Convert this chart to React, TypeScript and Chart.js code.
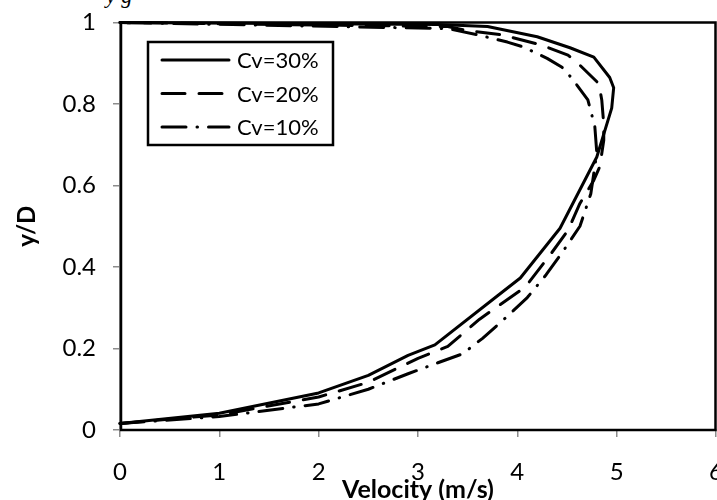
import React, { useEffect, useRef } from "react";
import { Chart, registerables } from "chart.js";

Chart.register(...registerables);

const seriesLabels = ["Cv=30%", "Cv=20%", "Cv=10%"];

const v30 = [0, 1, 2, 2.5, 2.9, 3.17, 3.83, 4.03, 4.43, 4.8, 4.95, 4.97, 4.93, 4.77, 4.53, 4.2, 3.7, 3.2, 0];
const y30 = [0.016, 0.041, 0.091, 0.134, 0.183, 0.209, 0.335, 0.373, 0.495, 0.67, 0.79, 0.84, 0.865, 0.915, 0.938, 0.965, 0.99, 0.995, 1.0];

const v20 = [0, 1, 2, 2.5, 3.0, 3.3, 3.62, 4.08, 4.34, 4.51, 4.63, 4.77, 4.83, 4.87, 4.87, 4.85, 4.82, 4.61, 4.51, 4.24, 3.84, 3.5, 3.3, 0];
const y20 = [0.016, 0.037, 0.081, 0.117, 0.176, 0.205, 0.272, 0.351, 0.433, 0.49, 0.556, 0.613, 0.646, 0.711, 0.75, 0.81, 0.85, 0.9, 0.92, 0.945, 0.97, 0.98, 0.99, 1.0];

const v10 = [0, 1, 2, 2.5, 2.9, 3.2, 3.45, 3.65, 3.89, 4.1, 4.29, 4.45, 4.63, 4.74, 4.8, 4.78, 4.71, 4.55, 4.45, 4.3, 4.06, 3.9, 3.6, 3.3, 0];
const y10 = [0.016, 0.033, 0.064, 0.1, 0.138, 0.165, 0.187, 0.225, 0.277, 0.325, 0.381, 0.435, 0.5, 0.58, 0.68, 0.745, 0.81, 0.863, 0.89, 0.912, 0.94, 0.952, 0.97, 0.985, 1.0];

const xTicks = [0, 1, 2, 3, 4, 5, 6];
const yTicks = [0, 0.2, 0.4, 0.6, 0.8, 1];

const xTitle = "Velocity (m/s)";
const yTitle = "y/D";

const dashes: number[][] = [[], [23, 14], [24, 11, 0.5, 11]];

const FONT = "Lato";

const toPoints = (xs: number[], ys: number[]) => xs.map((x, i) => ({ x, y: ys[i] }));

const framePlugin = {
  id: "plotFrame",
  beforeDatasetsDraw(chart: any) {
    const { ctx, chartArea } = chart;
    ctx.save();
    ctx.strokeStyle = "#000";
    ctx.lineWidth = 2.5;
    ctx.strokeRect(chartArea.left + 1, chartArea.top, chartArea.right - chartArea.left - 1.5, chartArea.bottom - chartArea.top);
    ctx.restore();
  },
};

const legendPlugin = {
  id: "insideLegend",
  afterDraw(chart: any) {
    const { ctx } = chart;
    const bx = 148, by = 42, bw = 185, bh = 103;
    ctx.save();
    ctx.fillStyle = "#fff";
    ctx.fillRect(bx, by, bw, bh);
    ctx.strokeStyle = "#000";
    ctx.lineWidth = 2.5;
    ctx.strokeRect(bx, by, bw, bh);
    ctx.font = `22px ${FONT}`;
    ctx.textBaseline = "middle";
    ctx.fillStyle = "#000";
    chart.data.datasets.forEach((ds: any, i: number) => {
      const yy = 60 + i * 33.5;
      ctx.beginPath();
      ctx.setLineDash(ds.borderDash || []);
      ctx.lineCap = "round";
      ctx.lineWidth = 3;
      ctx.moveTo(162, yy);
      ctx.lineTo(229, yy);
      ctx.stroke();
      ctx.setLineDash([]);
      ctx.fillText(ds.label, 237, yy + 1);
    });
    ctx.restore();
  },
};

export default function App() {
  const ref = useRef<HTMLCanvasElement | null>(null);

  useEffect(() => {
    if (!ref.current) return;
    const series = [
      toPoints(v30, y30),
      toPoints(v20, y20),
      toPoints(v10, y10),
    ];
    const chart = new Chart(ref.current, {
      type: "scatter",
      data: {
        datasets: series.map((pts, i) => ({
          label: seriesLabels[i],
          data: pts,
          showLine: true,
          borderColor: "#000",
          backgroundColor: "#000",
          borderWidth: 3,
          borderDash: dashes[i],
          borderCapStyle: "round",
          borderJoinStyle: "round",
          pointRadius: 0,
          pointHoverRadius: 0,
          tension: 0,
          clip: false,
        })),
      },
      options: {
        responsive: false,
        animation: false,
        devicePixelRatio: 1,
        layout: { padding: { top: 22.5, right: 1, left: 0, bottom: 0 }, autoPadding: false },
        plugins: {
          legend: { display: false },
          tooltip: { enabled: false },
        },
        scales: {
          x: {
            type: "linear",
            min: 0,
            max: 6,
            afterBuildTicks: (s: any) => {
              s.ticks = xTicks.map((v) => ({ value: v }));
            },
            afterFit: (s: any) => {
              s.height = 70;
              s.paddingLeft = 0;
              s.paddingRight = 0;
              s.paddingTop = 0;
              s.paddingBottom = 0;
            },
            grid: {
              display: true,
              drawOnChartArea: false,
              drawTicks: true,
              tickLength: 7,
              color: "#8c8c8c",
              lineWidth: 1.5,
            },
            border: { display: true, color: "#8c8c8c", width: 1.5 },
            ticks: {
              color: "#000",
              padding: 21,
              font: { family: FONT, size: 24 },
              maxRotation: 0,
              autoSkip: false,
              callback: (v: any) => String(v),
            },
            title: {
              display: true,
              text: xTitle,
              color: "#000",
              font: { family: FONT, size: 25, weight: "bold", lineHeight: 1 },
              padding: { top: 0, bottom: -2 },
            },
          },
          y: {
            type: "linear",
            min: 0,
            max: 1,
            afterBuildTicks: (s: any) => {
              s.ticks = yTicks.map((v) => ({ value: v }));
            },
            afterFit: (s: any) => {
              s.width = 120;
              s.paddingLeft = 0;
              s.paddingRight = 0;
              s.paddingTop = 0;
              s.paddingBottom = 0;
            },
            grid: {
              display: true,
              drawOnChartArea: false,
              drawTicks: true,
              tickLength: 7,
              color: "#8c8c8c",
              lineWidth: 1.5,
            },
            border: { display: true, color: "#8c8c8c", width: 1.5 },
            ticks: {
              color: "#000",
              padding: 17,
              font: { family: FONT, size: 24 },
              autoSkip: false,
              callback: (v: any) => String(v),
            },
            title: {
              display: true,
              text: yTitle,
              color: "#000",
              font: { family: FONT, size: 24, weight: "bold", lineHeight: 1.2 },
              padding: { top: 13, bottom: 0 },
            },
          },
        },
      },
      plugins: [framePlugin, legendPlugin],
    } as any);
    return () => chart.destroy();
  }, []);

  return (
    <div style={{ position: "absolute", left: 0, top: 0, width: 717, height: 500, overflow: "hidden", background: "#fff" }}>
      <span
        style={{
          position: "absolute",
          left: 106,
          top: -17,
          fontFamily: "'Liberation Serif', serif",
          fontStyle: "italic",
          fontSize: 22,
          color: "#000",
          whiteSpace: "nowrap",
        }}
      >
        y g
      </span>
      <canvas ref={ref} width={717} height={500} style={{ position: "absolute", left: 0, top: 0, width: 717, height: 500 }} />
    </div>
  );
}
